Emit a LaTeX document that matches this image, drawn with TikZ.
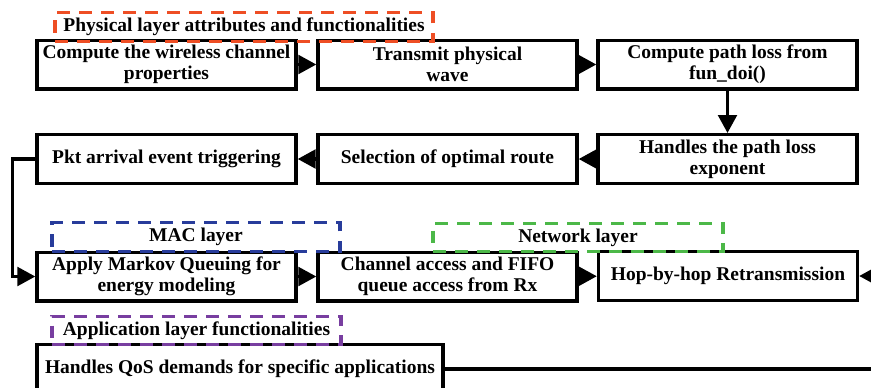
\documentclass[tikz,border=0pt]{standalone}
\usepackage{fontspec}
\setmainfont{Liberation Serif}
\usetikzlibrary{arrows.meta}

\definecolor{phyred}{RGB}{238,78,36}
\definecolor{macblue}{RGB}{40,60,155}
\definecolor{netgreen}{RGB}{76,184,72}
\definecolor{apppurple}{RGB}{120,62,160}

\begin{document}
\begin{tikzpicture}[x=0.75pt, y=-0.75pt,
    font=\fontsize{14.6pt}{15.8pt}\selectfont\bfseries,
    blk/.style={draw, line width=2.5pt, minimum width=194.25pt, minimum height=36.5pt,
        align=center, inner sep=0pt},
    layer/.style={draw, line width=2.3pt, dash pattern=on 9.5pt off 7pt,
        minimum height=21.5pt, inner sep=0pt},
    arr/.style={line width=2.5pt, -{Triangle[length=13.5pt, width=14pt]}}]
    \useasboundingbox (0,0) rectangle (871,387);
    \clip (0,0) rectangle (871,387);
    % Row 1
    \node[blk] (wireless) at (166.5,64.5) {Compute the wireless channel\\properties};
    \node[blk] (wave) at (447.5,64.5) {Transmit physical\\wave};
    \node[blk] (pathloss) at (727.5,64.5) {Compute path loss from\\fun\_doi()};
    % Row 2
    \node[blk] (exponent) at (727.5,159) {Handles the path loss\\exponent};
    \node[blk] (route) at (447.5,159) {Selection of optimal route};
    \node[blk] (pkt) at (166.5,159) {Pkt arrival event triggering};
    % Row 3
    \node[blk] (markov) at (166.5,276.5) {Apply Markov Queuing for\\energy modeling};
    \node[blk] (fifo) at (447.5,276.5) {Channel access and FIFO\\queue access from Rx};
    \node[blk] (hop) at (728,276) {Hop-by-hop Retransmission};
    % Row 4
    \node[blk, minimum width=304.5pt] (qos) at (240,369) {Handles QoS demands for specific applications};
    % Layer labels
    \node[layer, draw=phyred, minimum width=283.5pt] (phylbl) at (244,27) {Physical layer attributes and functionalities};
    \node[layer, draw=macblue, minimum width=216pt] (maclbl) at (196,237) {MAC layer};
    \node[layer, draw=netgreen, minimum width=217.5pt] (netlbl) at (578,237.5) {Network layer};
    \node[layer, draw=apppurple, minimum width=216.75pt] (applbl) at (196.5,330.5) {Application layer functionalities};
    % Arrows
    \draw[arr] (wireless) -- (wave);
    \draw[arr] (wave) -- (pathloss);
    \draw[arr] (pathloss) -- (exponent);
    \draw[arr] (exponent) -- (route);
    \draw[arr] (route) -- (pkt);
    \draw[arr] (pkt.west) -- ++(-23,0) |- (markov.west);
    \draw[arr] (markov) -- (fifo);
    \draw[arr] (fifo) -- (hop);
    \coordinate (qosend) at (890,369);
    \coordinate (hopin) at (890,276);
    \draw[arr] (qos.east) -- (qosend) -- (hopin) -- (hop.east);
\end{tikzpicture}
\end{document}
